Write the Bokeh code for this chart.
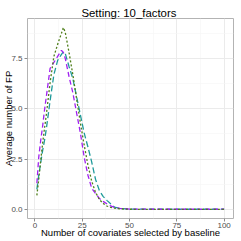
from bokeh.plotting import figure
from bokeh.models import FixedTicker, Range1d, PrintfTickFormatter
from bokeh.embed import file_html
from bokeh.resources import INLINE

title_text = "Setting:  10_factors"
x_label = "Number of covariates selected by baseline"
y_label = "Average number of FP"

x_vals = [1, 2, 3, 4, 5, 6, 8, 10, 12, 14, 15, 16, 18, 20, 22, 24, 26, 28, 30,
          32, 34, 36, 38, 40, 42, 45, 50, 60, 70, 80, 90, 100]
green_dotted = [0.7, 1.5, 2.4, 3.25, 4.0, 4.7, 6.3, 7.6, 8.2, 8.75, 9.03, 8.8, 7.8, 6.7, 5.5, 4.3,
                3.2, 2.2, 1.4, 0.85, 0.5, 0.3, 0.17, 0.1, 0.06, 0.03, 0.01, 0.0, 0.0, 0.0, 0.0, 0.0]
purple_dashed = [1.3, 2.6, 3.4, 4.1, 4.9, 5.6, 7.0, 7.3, 7.6, 7.9, 7.8, 7.5, 6.6, 5.8, 4.8, 3.8,
                 2.6, 1.7, 1.05, 0.8, 0.55, 0.4, 0.28, 0.18, 0.1, 0.05, 0.02, 0.01, 0.01, 0.01, 0.01, 0.01]
teal_dashed = [1.0, 1.7, 2.3, 2.9, 3.4, 4.0, 5.4, 6.7, 7.4, 7.7, 7.83, 7.75, 7.1, 6.5, 5.6, 4.7,
               3.8, 3.1, 2.35, 1.5, 0.95, 0.65, 0.45, 0.28, 0.12, 0.05, 0.02, 0.01, 0.01, 0.01, 0.01, 0.01]

x_ticks = [0, 25, 50, 75, 100]
x_minor = [12.5, 37.5, 62.5, 87.5]
y_ticks = [0, 2.5, 5, 7.5]
y_minor = [1.25, 3.75, 6.25, 8.75]

FONT = "Liberation Sans"

p = figure(width=241, height=241, output_backend="svg", toolbar_location=None,
           x_range=Range1d(-3.95, 104.95), y_range=Range1d(-0.45, 9.48),
           min_border_left=27, min_border_right=8, min_border_top=18, min_border_bottom=23)
p.styles = {"position": "absolute", "left": "0px", "top": "0px"}

p.title.text = title_text
p.title.align = "center"
p.title.text_font = FONT
p.title.text_font_size = "11.4px"
p.title.text_font_style = "normal"
p.title.text_color = "black"
p.title.standoff = -1

p.background_fill_color = "white"
p.border_fill_color = "white"
p.outline_line_color = "#b3b3b3"
p.outline_line_width = 1

p.xaxis.ticker = FixedTicker(ticks=x_ticks, minor_ticks=x_minor)
p.yaxis.ticker = FixedTicker(ticks=y_ticks, minor_ticks=y_minor)
p.yaxis.formatter = PrintfTickFormatter(format="%.1f")
p.xaxis.axis_label = x_label
p.yaxis.axis_label = y_label

for ax in (p.xaxis, p.yaxis):
    ax.axis_line_color = None
    ax.major_tick_line_color = "#8c8c8c"
    ax.major_tick_in = 0
    ax.major_tick_out = 3
    ax.minor_tick_line_color = None
    ax.major_label_text_font = FONT
    ax.major_label_text_font_size = "8px"
    ax.major_label_text_color = "#4d4d4d"
    ax.axis_label_text_font = FONT
    ax.axis_label_text_font_size = "9.5px"
    ax.axis_label_text_font_style = "normal"
    ax.axis_label_text_color = "black"

p.xaxis.major_label_standoff = 0
p.xaxis.axis_label_standoff = -4
p.yaxis.major_label_standoff = 1
p.yaxis.axis_label_standoff = -6

for g in (p.xgrid, p.ygrid):
    g.grid_line_color = "#ebebeb"
    g.grid_line_width = 1
    g.minor_grid_line_color = "#f5f5f5"
    g.minor_grid_line_width = 0.6

p.line(x_vals, teal_dashed, line_color="#1f9a9a", line_width=1.3, line_dash="6 3")
p.line(x_vals, purple_dashed, line_color="#a020f0", line_width=1.3, line_dash="5 3")
p.line(x_vals, green_dotted, line_color="#4f7f1a", line_width=1.3, line_dash="2 2")

open("out.html", "w").write(file_html(p, INLINE))
